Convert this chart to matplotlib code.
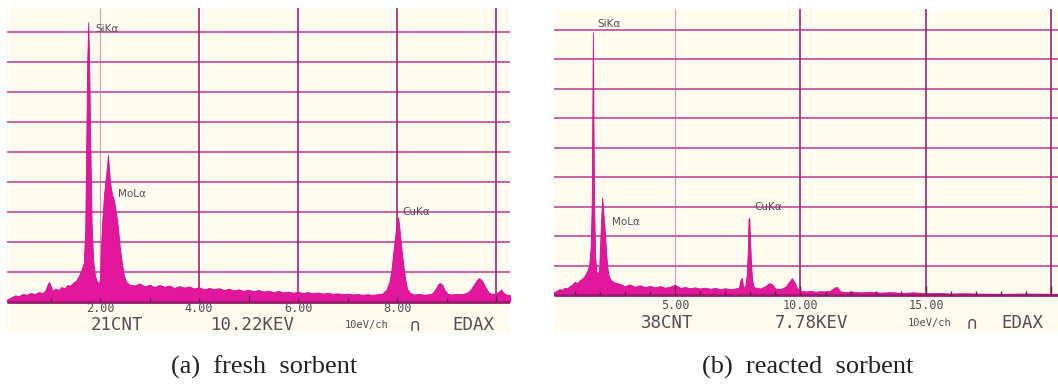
import numpy as np
import matplotlib
matplotlib.use("Agg")
import matplotlib.pyplot as plt

# EDX spectrum, fresh sorbent (energy keV, counts in grid divisions)
energy_a = [0.12, 0.20, 0.28, 0.36, 0.44, 0.52, 0.60, 0.68, 0.76, 0.84, 0.90, 0.94, 0.97, 1.00,
            1.04, 1.10, 1.16, 1.22, 1.28, 1.34, 1.40, 1.46, 1.52, 1.58, 1.63, 1.67, 1.70, 1.72,
            1.74, 1.76, 1.78, 1.80, 1.83, 1.86, 1.89, 1.93, 1.97, 2.00, 2.01, 2.04, 2.08, 2.12,
            2.16, 2.20, 2.24, 2.28, 2.32, 2.36, 2.40, 2.44, 2.48, 2.52, 2.56, 2.60,
            2.70, 2.80, 2.90, 3.00, 3.10, 3.20, 3.30, 3.40, 3.50, 3.60, 3.70, 3.80, 3.90, 4.00,
            4.10, 4.20, 4.30, 4.40, 4.50, 4.60, 4.70, 4.80, 4.90, 5.00, 5.10, 5.20, 5.30, 5.40,
            5.50, 5.60, 5.70, 5.80, 5.90, 6.00, 6.10, 6.20, 6.30, 6.40, 6.50, 6.60, 6.70, 6.80,
            6.90, 7.00, 7.10, 7.20, 7.30, 7.40, 7.50, 7.60, 7.70, 7.78, 7.84, 7.88, 7.92, 7.96,
            8.00, 8.02, 8.05, 8.08, 8.12, 8.16, 8.20, 8.26, 8.35, 8.45, 8.55, 8.65, 8.72, 8.78,
            8.83, 8.87, 8.91, 8.96, 9.02, 9.10, 9.20, 9.30, 9.40, 9.48, 9.55, 9.62, 9.66, 9.72,
            9.78, 9.85, 9.92, 10.00, 10.06, 10.10, 10.15, 10.20, 10.30]
counts_a = [0.08, 0.15, 0.22, 0.20, 0.27, 0.24, 0.30, 0.27, 0.33, 0.30, 0.40, 0.58, 0.67, 0.55,
            0.38, 0.45, 0.40, 0.50, 0.46, 0.56, 0.55, 0.65, 0.72, 0.90, 1.10, 1.30, 2.40, 5.20,
            8.00, 9.33, 8.00, 5.50, 2.60, 1.40, 0.95, 0.70, 0.62, 0.75, 1.50, 2.60, 3.60, 4.20,
            4.90, 4.00, 3.60, 3.40, 3.00, 2.50, 1.80, 1.30, 0.90, 0.70, 0.62, 0.58,
            0.55, 0.62, 0.52, 0.58, 0.50, 0.57, 0.51, 0.55, 0.47, 0.53, 0.48, 0.52, 0.45, 0.49,
            0.42, 0.47, 0.43, 0.46, 0.40, 0.44, 0.39, 0.42, 0.37, 0.41, 0.36, 0.40, 0.35, 0.38,
            0.33, 0.37, 0.32, 0.35, 0.31, 0.34, 0.30, 0.33, 0.29, 0.32, 0.28, 0.31, 0.27, 0.29,
            0.26, 0.28, 0.25, 0.27, 0.24, 0.26, 0.24, 0.26, 0.28, 0.40, 0.65, 1.00, 1.60, 2.20,
            2.70, 2.83, 2.40, 1.90, 1.30, 0.80, 0.45, 0.30, 0.25, 0.27, 0.24, 0.26, 0.30, 0.45,
            0.60, 0.63, 0.58, 0.40, 0.28, 0.25, 0.27, 0.26, 0.30, 0.40, 0.58, 0.75, 0.80, 0.70,
            0.50, 0.32, 0.26, 0.30, 0.35, 0.42, 0.30, 0.25, 0.22]

# EDX spectrum, reacted sorbent
energy_b = [0.18, 0.30, 0.40, 0.50, 0.60, 0.70, 0.80, 0.90, 1.00, 1.10, 1.20, 1.30, 1.40, 1.50,
            1.58, 1.64, 1.68, 1.71, 1.73, 1.75, 1.78, 1.82, 1.87, 1.93, 1.98, 2.02, 2.06, 2.10,
            2.13, 2.17, 2.21, 2.26, 2.31, 2.36, 2.45, 2.60, 2.80, 3.00, 3.20, 3.40, 3.60, 3.80,
            4.00, 4.20, 4.40, 4.60, 4.80, 5.00, 5.20, 5.40, 5.60, 5.80, 6.00, 6.20, 6.40, 6.60,
            6.80, 7.00, 7.20, 7.40, 7.55, 7.62, 7.67, 7.72, 7.80, 7.86, 7.90, 7.93, 7.96, 7.99,
            8.03, 8.07, 8.12, 8.20, 8.40, 8.60, 8.75, 8.85, 9.00, 9.20, 9.40, 9.55, 9.66, 9.75,
            9.85, 10.00, 10.20, 10.40, 10.60, 10.80, 11.00, 11.20, 11.35, 11.45, 11.60, 11.80,
            12.00, 12.40, 12.80, 13.20, 13.60, 14.00, 14.50, 15.00, 15.50, 16.00, 16.50, 17.00,
            18.00, 19.00, 20.00, 20.30]
counts_b = [0.10, 0.15, 0.20, 0.18, 0.25, 0.22, 0.30, 0.35, 0.45, 0.40, 0.50, 0.55, 0.65, 0.80,
            1.00, 1.60, 3.00, 6.50, 8.90, 6.00, 3.00, 1.30, 0.80, 0.70, 0.90, 1.80, 2.60, 3.30,
            3.00, 2.50, 2.10, 1.40, 0.90, 0.65, 0.50, 0.42, 0.38, 0.30, 0.36, 0.28, 0.33, 0.27,
            0.31, 0.26, 0.30, 0.25, 0.28, 0.35, 0.24, 0.27, 0.23, 0.26, 0.22, 0.25, 0.21, 0.24,
            0.20, 0.23, 0.20, 0.22, 0.25, 0.55, 0.57, 0.25, 0.30, 0.70, 1.50, 2.60, 2.60, 1.90,
            1.10, 0.55, 0.30, 0.25, 0.22, 0.30, 0.40, 0.38, 0.22, 0.20, 0.28, 0.45, 0.57, 0.45,
            0.25, 0.15, 0.12, 0.14, 0.11, 0.13, 0.12, 0.15, 0.25, 0.27, 0.12, 0.10,
            0.12, 0.09, 0.11, 0.08, 0.10, 0.07, 0.09, 0.06, 0.07, 0.05, 0.06, 0.05,
            0.04, 0.05, 0.04, 0.04]

# peak labels (text, energy of left edge, height in grid units)
labels_a = [("SiK\u03b1", 1.90, 9.1), ("MoL\u03b1", 2.36, 3.6), ("CuK\u03b1", 8.10, 3.0)]
labels_b = [("SiK\u03b1", 1.89, 9.2), ("MoL\u03b1", 2.49, 2.47), ("CuK\u03b1", 8.18, 2.98)]

ticks_a = [2, 4, 6, 8]
tick_labels_a = ["2.00", "4.00", "6.00", "8.00"]
ticks_b = [5, 10, 15]
tick_labels_b = ["5.00", "10.00", "15.00"]
footer_a = [("21CNT", 2.34), ("10.22KEV", 5.09), ("10eV/ch", 7.39), ("\u2229", 8.36), ("EDAX", 9.54)]
footer_b = [("38CNT", 4.68), ("7.78KEV", 10.46), ("10eV/ch", 15.16), ("\u2229", 16.83), ("EDAX", 18.86)]

W, H = 1058, 385
CREAM = "#fffbee"
FILL = "#e3179e"
GRID = "#c8569f"
DARK = "#a0206f"
TXT = "#5a4a58"

fig = plt.figure(figsize=(W / 100, H / 100), dpi=100)
fig.patch.set_facecolor("white")


def make_axes(px_left, px_top, px_right, px_bottom):
    return fig.add_axes([px_left / W, 1 - px_bottom / H,
                         (px_right - px_left) / W, (px_bottom - px_top) / H])


def draw_panel(ax, energy, counts, xlim, ylim, vgrid, faint, ticks, tick_labels,
               footer, labels, tick_y, footer_y, minor_top):
    ax.set_facecolor(CREAM)
    ax.set_xlim(*xlim)
    ax.set_ylim(*ylim)
    top = ylim[1]
    for y in range(1, 10):
        ax.hlines(y, xlim[0], xlim[1], color=GRID, lw=1.3, zorder=1)
    for x in vgrid:
        ax.vlines(x, 0, top, color=GRID if x in faint else DARK,
                  lw=0.8 if x in faint else 1.3, alpha=0.6 if x in faint else 0.9, zorder=1)
    ax.fill_between(energy, 0, counts, color=FILL, lw=0.6, edgecolor="#d0108e", zorder=2)
    ax.hlines(0, xlim[0], xlim[1], color="#9a1c6c", lw=2, zorder=3)
    # 1 keV tick marks along the baseline
    for k in range(1, int(xlim[1]) + 1):
        h = minor_top * (2 if k % 5 == 0 else 1)
        ax.vlines(k, 0, h, color="#6a1a50", lw=1, zorder=3)
    for t, lab in zip(ticks, tick_labels):
        ax.text(t, tick_y, lab, ha="center", va="center", fontsize=8.5,
                family="DejaVu Sans Mono", color=TXT)
    for lab, x in footer:
        fs = 7.5 if "eV" in lab else 12.5
        ax.text(x, footer_y, lab, ha="center", va="center", fontsize=fs,
                family="DejaVu Sans Mono", color=TXT, clip_on=True)
    for lab, x, y in labels:
        ax.text(x, y, lab, ha="left", va="center", fontsize=7.5, color=TXT)
    for s in ax.spines.values():
        s.set_visible(False)
    ax.set_xticks([])
    ax.set_yticks([])


# panel (a): 49.5 px per keV, 30 px per grid unit, baseline at y=302
ax_a = make_axes(7, 8, 510, 333)
draw_panel(ax_a, energy_a, counts_a, (0.12, 10.28), (-31 / 30, 294 / 30),
           [2, 4, 6, 8, 10], [2], ticks_a, tick_labels_a, footer_a, labels_a,
           -0.23, -0.78, 0.12)

# panel (b): 25.1 px per keV, 29.5 px per grid unit, baseline at y=295
ax_b = make_axes(554, 9, 1058, 333)
draw_panel(ax_b, energy_b, counts_b, (0.18, 20.26), (-38 / 29.5, 286 / 29.5),
           [5, 10, 15, 20], [5], ticks_b, tick_labels_b, footer_b, labels_b,
           -0.34, -0.94, 0.15)

fig.text(264 / W, 1 - 367 / H, "(a)  fresh  sorbent", ha="center", va="center",
         fontsize=19, family="Liberation Serif", color="#222222")
fig.text(808 / W, 1 - 367 / H, "(b)  reacted  sorbent", ha="center", va="center",
         fontsize=19, family="Liberation Serif", color="#222222")

fig.savefig("out.png", dpi=100, facecolor="white")
